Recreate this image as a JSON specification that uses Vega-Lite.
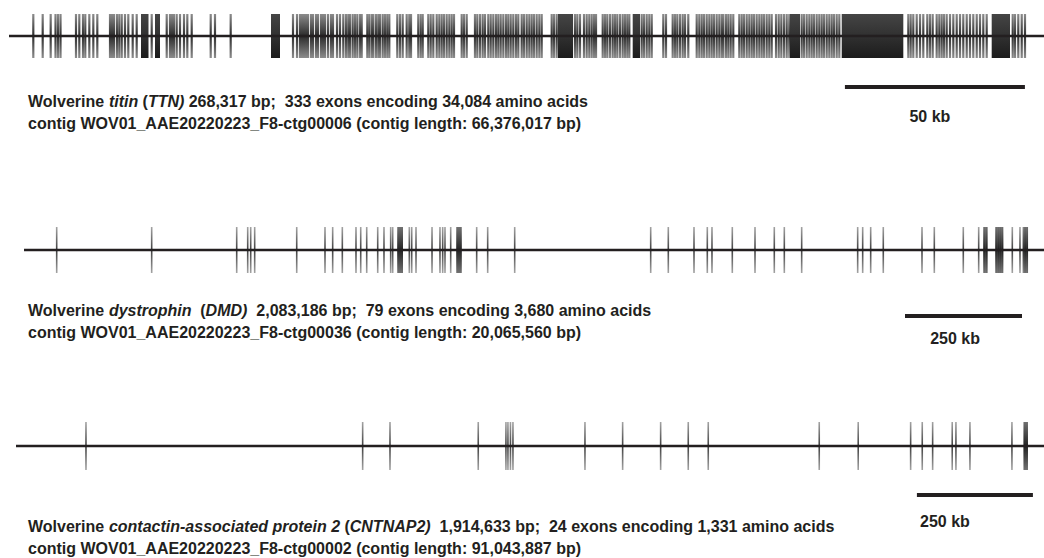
{
  "$schema": "https://vega.github.io/schema/vega-lite/v6.json",
  "padding": 0,
  "spacing": 0,
  "config": {"view": {"stroke": null}, "concat": {"spacing": 0}},
  "datasets": {
    "ttn": [{"s":9.25},{"s":11.86},{"s":14.08},{"s":15.42},{"s":16.11},{"s":16.81},{"s":21.11},{"s":22.03},{"s":23.06},{"s":23.69},{"s":24.81},{"s":25.92},{"s":27.03},{"s":30.56},{"s":31.11},{"s":31.67},{"s":32.5},{"s":33.14},{"s":33.81},{"s":34.72},{"s":35.64},{"s":36.86},{"s":37.97},{"s":42.14},{"s":46.31},{"s":47.22},{"s":47.78},{"s":48.33},{"s":49.08},{"s":50.0},{"s":51.11},{"s":52.03},{"s":53.25},{"s":58.53},{"s":59.72},{"s":64.08},{"s":81.39},{"s":82.5},{"s":83.33},{"s":83.89},{"s":84.44},{"s":85.0},{"s":85.56},{"s":86.39},{"s":86.94},{"s":87.78},{"s":88.33},{"s":89.17},{"s":89.72},{"s":90.28},{"s":91.11},{"s":91.94},{"s":92.5},{"s":93.61},{"s":94.44},{"s":95.36},{"s":96.11},{"s":96.75},{"s":97.22},{"s":97.97},{"s":98.61},{"s":99.25},{"s":100.0},{"s":100.47},{"s":102.03},{"s":102.58},{"s":103.25},{"s":103.69},{"s":104.44},{"s":105.08},{"s":105.56},{"s":106.31},{"s":106.94},{"s":107.58},{"s":108.14},{"s":110.36},{"s":111.11},{"s":111.86},{"s":112.97},{"s":113.69},{"s":114.17},{"s":116.19},{"s":116.86},{"s":117.42},{"s":118.97},{"s":119.64},{"s":120.36},{"s":121.31},{"s":122.03},{"s":122.69},{"s":123.33},{"s":124.08},{"s":124.81},{"s":125.47},{"s":126.11},{"s":128.25},{"s":128.89},{"s":129.64},{"s":131.94},{"s":132.58},{"s":133.33},{"s":134.08},{"s":134.72},{"s":135.64},{"s":136.31},{"s":137.03},{"s":137.78},{"s":138.42},{"s":139.08},{"s":139.81},{"s":140.56},{"s":141.19},{"s":141.86},{"s":142.58},{"s":143.33},{"s":143.97},{"s":144.92},{"s":145.56},{"s":146.31},{"s":147.03},{"s":147.69},{"s":148.33},{"s":149.08},{"s":149.81},{"s":150.47},{"s":153.25},{"s":153.89},{"s":154.64},{"s":159.72},{"s":160.36},{"s":161.11},{"s":162.22},{"s":162.97},{"s":163.69},{"s":164.36},{"s":165.0},{"s":165.56},{"s":167.42},{"s":168.06},{"s":168.69},{"s":169.44},{"s":170.19},{"s":170.83},{"s":171.47},{"s":172.22},{"s":172.97},{"s":173.61},{"s":174.25},{"s":174.81},{"s":178.25},{"s":178.89},{"s":179.64},{"s":180.36},{"s":181.03},{"s":184.25},{"s":185.0},{"s":186.86},{"s":187.5},{"s":188.14},{"s":188.89},{"s":189.64},{"s":190.28},{"s":191.19},{"s":193.53},{"s":194.25},{"s":194.92},{"s":195.56},{"s":196.31},{"s":197.03},{"s":197.69},{"s":198.33},{"s":199.08},{"s":199.81},{"s":200.47},{"s":200.92},{"s":201.67},{"s":202.31},{"s":202.97},{"s":203.69},{"s":205.36},{"s":206.03},{"s":206.67},{"s":207.42},{"s":208.14},{"s":208.81},{"s":209.44},{"s":210.19},{"s":210.92},{"s":211.58},{"s":212.22},{"s":212.97},{"s":213.69},{"s":214.36},{"s":215.56},{"s":216.31},{"s":217.03},{"s":217.78},{"s":218.53},{"s":219.25},{"s":222.69},{"s":223.33},{"s":224.08},{"s":224.81},{"s":225.47},{"s":226.11},{"s":226.86},{"s":227.58},{"s":228.25},{"s":228.89},{"s":229.64},{"s":230.36},{"s":231.03},{"s":231.67},{"s":232.42},{"s":233.14},{"s":252.31},{"s":252.97},{"s":253.69},{"s":254.64},{"s":255.56},{"s":256.47},{"s":257.58},{"s":258.33},{"s":259.08},{"s":260.19},{"s":260.92},{"s":261.58},{"s":262.22},{"s":262.97},{"s":263.89},{"s":264.81},{"s":265.75},{"s":266.67},{"s":267.58},{"s":268.53},{"s":269.44},{"s":270.36},{"s":271.31},{"s":272.22},{"s":273.14},{"s":274.08},{"s":281.31},{"s":281.94},{"s":282.86},{"s":283.81},{"s":284.72}],
    "ttnBlocks": [{"s":39.17,"e":41.25},{"s":43.06,"e":44.44},{"s":75.28,"e":77.78},{"s":155.0,"e":159.17},{"s":175.75,"e":177.78},{"s":219.44,"e":222.22},{"s":233.81,"e":250.92},{"s":275.47,"e":280.56}],
    "dmd": [{"s":121.1},{"s":324.0},{"s":505.6},{"s":529.1},{"s":535.5},{"s":544.0},{"s":633.8},{"s":694.2},{"s":710.6},{"s":731.2},{"s":760.4},{"s":770.5},{"s":783.3},{"s":806.8},{"s":820.2},{"s":834.5},{"s":838.8},{"s":850.1},{"s":854.4},{"s":858.7},{"s":874.3},{"s":879.4},{"s":888.6},{"s":922.8},{"s":939.8},{"s":945.6},{"s":950.5},{"s":962.7},{"s":976.2},{"s":980.4},{"s":984.7},{"s":1018.2},{"s":1041.7},{"s":1099.4},{"s":1389.9},{"s":1427.5},{"s":1482.4},{"s":1510.8},{"s":1520.8},{"s":1564.2},{"s":1612.7},{"s":1653.9},{"s":1675.3},{"s":1712.4},{"s":1832.0},{"s":1842.7},{"s":1859.8},{"s":1886.7},{"s":1969.4},{"s":1995.7},{"s":2057.6},{"s":2090.5},{"s":2101.8},{"s":2107.6},{"s":2127.5},{"s":2132.8},{"s":2137.1},{"s":2141.8},{"s":2162.3},{"s":2178.7},{"s":2185.8},{"s":2190.0},{"s":2194.3}],
    "dmdBlocks": [{"s":849.1,"e":860.8},{"s":975.1,"e":985.8},{"s":2100.8,"e":2109.3},{"s":2126.4,"e":2142.4},{"s":2186.0,"e":2195.8}],
    "cnt": [{"s":185.3},{"s":781.6},{"s":840.5},{"s":1030.7},{"s":1090.4},{"s":1094.7},{"s":1100.1},{"s":1105.5},{"s":1260.7},{"s":1341.9},{"s":1423.8},{"s":1483.3},{"s":1526.4},{"s":1765.6},{"s":1849.6},{"s":1962.6},{"s":1987.6},{"s":2010.0},{"s":2052.2},{"s":2060.2},{"s":2090.4},{"s":2180.9},{"s":2207.4},{"s":2211.0},{"s":2213.8}],
    "cntBlocks": [{"s":2206.3,"e":2215.3}],
    "lines": [{"g":"TTN","s":2.5,"e":290},{"g":"DMD","s":51.3,"e":2230},{"g":"CNT","s":34.5,"e":2250}],
    "bars": [{"g":"TTN","s":234.7,"e":284.7,"c":258.3,"t":"50 kb"},{"g":"DMD","s":1933.1,"e":2183.0,"c":2040,"t":"250 kb"},{"g":"CNT","s":1976.1,"e":2226.1,"c":2036.5,"t":"250 kb"}],
    "labels": [
      {"g":"TTN","x":7.78,"r":66,"it":false,"t":"Wolverine"},
      {"g":"TTN","x":30.25,"r":66,"it":true,"t":"titin"},
      {"g":"TTN","x":39.61,"r":66,"it":false,"t":"("},
      {"g":"TTN","x":41.08,"r":66,"it":true,"t":"TTN)"},
      {"g":"TTN","x":52.42,"r":66,"it":false,"t":"268,317 bp;\u00a0 333 exons encoding 34,084 amino acids"},
      {"g":"TTN","x":7.78,"r":88,"it":false,"t":"contig WOV01_AAE20220223_F8-ctg00006 (contig length: 66,376,017 bp)"},
      {"g":"DMD","x":59.8,"r":61,"it":false,"t":"Wolverine"},
      {"g":"DMD","x":232.6,"r":61,"it":true,"t":"dystrophin"},
      {"g":"DMD","x":427.8,"r":61,"it":false,"t":"("},
      {"g":"DMD","x":439.2,"r":61,"it":true,"t":"DMD)"},
      {"g":"DMD","x":547.5,"r":61,"it":false,"t":"2,083,186 bp;\u00a0 79 exons encoding 3,680 amino acids"},
      {"g":"DMD","x":59.8,"r":83,"it":false,"t":"contig WOV01_AAE20220223_F8-ctg00036 (contig length: 20,065,560 bp)"},
      {"g":"CNT","x":60.3,"r":81,"it":false,"t":"Wolverine"},
      {"g":"CNT","x":234.7,"r":81,"it":true,"t":"contactin-associated protein 2"},
      {"g":"CNT","x":742.4,"r":81,"it":false,"t":"("},
      {"g":"CNT","x":753.8,"r":81,"it":true,"t":"CNTNAP2)"},
      {"g":"CNT","x":947.3,"r":81,"it":false,"t":"1,914,633 bp;\u00a0 24 exons encoding 1,331 amino acids"},
      {"g":"CNT","x":60.3,"r":103,"it":false,"t":"contig WOV01_AAE20220223_F8-ctg00002 (contig length: 91,043,887 bp)"}
    ]
  },
  "vconcat": [
    {
      "width": 1044, "height": 190,
      "layer": [
        {"data": {"name": "ttn"},
         "mark": {"type": "tick", "orient": "vertical", "size": 44, "thickness": 2.2, "opacity": 0.9,
                  "color": {"gradient": "linear", "x1": 0, "y1": 0, "x2": 0, "y2": 1, "stops": [{"offset": 0, "color": "#808080"}, {"offset": 0.5, "color": "#151515"}, {"offset": 1, "color": "#808080"}]}},
         "encoding": {"x": {"field": "s", "type": "quantitative", "scale": {"domain": [0, 290], "nice": false, "zero": false}, "axis": null},
                      "y": {"datum": 0, "type": "quantitative", "scale": {"domain": [-36, 154], "reverse": true, "nice": false, "zero": false}, "axis": null}}},
        {"data": {"name": "ttnBlocks"},
         "mark": {"type": "rect", "color": {"gradient": "linear", "x1": 0, "y1": 0, "x2": 0, "y2": 1, "stops": [{"offset": 0, "color": "#454545"}, {"offset": 1, "color": "#1c1c1c"}]}},
         "encoding": {"x": {"field": "s", "type": "quantitative"}, "x2": {"field": "e"},
                      "y": {"datum": -22, "type": "quantitative"}, "y2": {"datum": 22}}},
        {"data": {"name": "lines"}, "transform": [{"filter": "datum.g === 'TTN'"}],
         "mark": {"type": "rule", "strokeWidth": 2.5, "color": "#231f20"},
         "encoding": {"x": {"field": "s", "type": "quantitative"}, "x2": {"field": "e"}, "y": {"datum": 0, "type": "quantitative"}}},
        {"data": {"name": "bars"}, "transform": [{"filter": "datum.g === 'TTN'"}],
         "mark": {"type": "rule", "strokeWidth": 4, "color": "#231f20"},
         "encoding": {"x": {"field": "s", "type": "quantitative"}, "x2": {"field": "e"}, "y": {"datum": 51, "type": "quantitative"}}},
        {"data": {"name": "bars"}, "transform": [{"filter": "datum.g === 'TTN'"}],
         "mark": {"type": "text", "font": "Liberation Sans", "fontWeight": "bold", "fontSize": 16, "align": "center", "baseline": "middle", "color": "#231f20"},
         "encoding": {"x": {"field": "c", "type": "quantitative"}, "y": {"datum": 81, "type": "quantitative"}, "text": {"field": "t"}}},
        {"data": {"name": "labels"}, "transform": [{"filter": "datum.g === 'TTN' && !datum.it"}],
         "mark": {"type": "text", "font": "Liberation Sans", "fontWeight": "bold", "fontSize": 16, "align": "left", "baseline": "middle", "color": "#231f20"},
         "encoding": {"x": {"field": "x", "type": "quantitative"}, "y": {"field": "r", "type": "quantitative"}, "text": {"field": "t"}}},
        {"data": {"name": "labels"}, "transform": [{"filter": "datum.g === 'TTN' && datum.it"}],
         "mark": {"type": "text", "font": "Liberation Sans", "fontWeight": "bold", "fontStyle": "italic", "fontSize": 16, "align": "left", "baseline": "middle", "color": "#231f20"},
         "encoding": {"x": {"field": "x", "type": "quantitative"}, "y": {"field": "r", "type": "quantitative"}, "text": {"field": "t"}}}
      ]
    },
    {
      "width": 1044, "height": 190,
      "layer": [
        {"data": {"name": "dmd"},
         "mark": {"type": "tick", "orient": "vertical", "size": 46, "thickness": 1.6, "opacity": 0.9,
                  "color": {"gradient": "linear", "x1": 0, "y1": 0, "x2": 0, "y2": 1, "stops": [{"offset": 0, "color": "#9a9a9a"}, {"offset": 0.5, "color": "#2a2a2a"}, {"offset": 1, "color": "#9a9a9a"}]}},
         "encoding": {"x": {"field": "s", "type": "quantitative", "scale": {"domain": [0, 2230], "nice": false, "zero": false}, "axis": null},
                      "y": {"datum": 0, "type": "quantitative", "scale": {"domain": [-60, 130], "reverse": true, "nice": false, "zero": false}, "axis": null}}},
        {"data": {"name": "dmdBlocks"},
         "mark": {"type": "rect", "opacity": 0.9, "color": {"gradient": "linear", "x1": 0, "y1": 0, "x2": 0, "y2": 1, "stops": [{"offset": 0, "color": "#6a6a6a"}, {"offset": 0.5, "color": "#1c1c1c"}, {"offset": 1, "color": "#6a6a6a"}]}},
         "encoding": {"x": {"field": "s", "type": "quantitative"}, "x2": {"field": "e"},
                      "y": {"datum": -23, "type": "quantitative"}, "y2": {"datum": 23}}},
        {"data": {"name": "lines"}, "transform": [{"filter": "datum.g === 'DMD'"}],
         "mark": {"type": "rule", "strokeWidth": 2.5, "color": "#231f20"},
         "encoding": {"x": {"field": "s", "type": "quantitative"}, "x2": {"field": "e"}, "y": {"datum": 0, "type": "quantitative"}}},
        {"data": {"name": "bars"}, "transform": [{"filter": "datum.g === 'DMD'"}],
         "mark": {"type": "rule", "strokeWidth": 4, "color": "#231f20"},
         "encoding": {"x": {"field": "s", "type": "quantitative"}, "x2": {"field": "e"}, "y": {"datum": 66, "type": "quantitative"}}},
        {"data": {"name": "bars"}, "transform": [{"filter": "datum.g === 'DMD'"}],
         "mark": {"type": "text", "font": "Liberation Sans", "fontWeight": "bold", "fontSize": 16, "align": "center", "baseline": "middle", "color": "#231f20"},
         "encoding": {"x": {"field": "c", "type": "quantitative"}, "y": {"datum": 89, "type": "quantitative"}, "text": {"field": "t"}}},
        {"data": {"name": "labels"}, "transform": [{"filter": "datum.g === 'DMD' && !datum.it"}],
         "mark": {"type": "text", "font": "Liberation Sans", "fontWeight": "bold", "fontSize": 16, "align": "left", "baseline": "middle", "color": "#231f20"},
         "encoding": {"x": {"field": "x", "type": "quantitative"}, "y": {"field": "r", "type": "quantitative"}, "text": {"field": "t"}}},
        {"data": {"name": "labels"}, "transform": [{"filter": "datum.g === 'DMD' && datum.it"}],
         "mark": {"type": "text", "font": "Liberation Sans", "fontWeight": "bold", "fontStyle": "italic", "fontSize": 16, "align": "left", "baseline": "middle", "color": "#231f20"},
         "encoding": {"x": {"field": "x", "type": "quantitative"}, "y": {"field": "r", "type": "quantitative"}, "text": {"field": "t"}}}
      ]
    },
    {
      "width": 1044, "height": 178,
      "layer": [
        {"data": {"name": "cnt"},
         "mark": {"type": "tick", "orient": "vertical", "size": 48, "thickness": 1.6, "opacity": 0.9,
                  "color": {"gradient": "linear", "x1": 0, "y1": 0, "x2": 0, "y2": 1, "stops": [{"offset": 0, "color": "#9a9a9a"}, {"offset": 0.5, "color": "#2a2a2a"}, {"offset": 1, "color": "#9a9a9a"}]}},
         "encoding": {"x": {"field": "s", "type": "quantitative", "scale": {"domain": [0, 2250], "nice": false, "zero": false}, "axis": null},
                      "y": {"datum": 0, "type": "quantitative", "scale": {"domain": [-66, 112], "reverse": true, "nice": false, "zero": false}, "axis": null}}},
        {"data": {"name": "cntBlocks"},
         "mark": {"type": "rect", "opacity": 0.9, "color": {"gradient": "linear", "x1": 0, "y1": 0, "x2": 0, "y2": 1, "stops": [{"offset": 0, "color": "#6a6a6a"}, {"offset": 0.5, "color": "#1c1c1c"}, {"offset": 1, "color": "#6a6a6a"}]}},
         "encoding": {"x": {"field": "s", "type": "quantitative"}, "x2": {"field": "e"},
                      "y": {"datum": -24, "type": "quantitative"}, "y2": {"datum": 24}}},
        {"data": {"name": "lines"}, "transform": [{"filter": "datum.g === 'CNT'"}],
         "mark": {"type": "rule", "strokeWidth": 2.5, "color": "#231f20"},
         "encoding": {"x": {"field": "s", "type": "quantitative"}, "x2": {"field": "e"}, "y": {"datum": 0, "type": "quantitative"}}},
        {"data": {"name": "bars"}, "transform": [{"filter": "datum.g === 'CNT'"}],
         "mark": {"type": "rule", "strokeWidth": 4, "color": "#231f20"},
         "encoding": {"x": {"field": "s", "type": "quantitative"}, "x2": {"field": "e"}, "y": {"datum": 49, "type": "quantitative"}}},
        {"data": {"name": "bars"}, "transform": [{"filter": "datum.g === 'CNT'"}],
         "mark": {"type": "text", "font": "Liberation Sans", "fontWeight": "bold", "fontSize": 16, "align": "center", "baseline": "middle", "color": "#231f20"},
         "encoding": {"x": {"field": "c", "type": "quantitative"}, "y": {"datum": 76, "type": "quantitative"}, "text": {"field": "t"}}},
        {"data": {"name": "labels"}, "transform": [{"filter": "datum.g === 'CNT' && !datum.it"}],
         "mark": {"type": "text", "font": "Liberation Sans", "fontWeight": "bold", "fontSize": 16, "align": "left", "baseline": "middle", "color": "#231f20"},
         "encoding": {"x": {"field": "x", "type": "quantitative"}, "y": {"field": "r", "type": "quantitative"}, "text": {"field": "t"}}},
        {"data": {"name": "labels"}, "transform": [{"filter": "datum.g === 'CNT' && datum.it"}],
         "mark": {"type": "text", "font": "Liberation Sans", "fontWeight": "bold", "fontStyle": "italic", "fontSize": 16, "align": "left", "baseline": "middle", "color": "#231f20"},
         "encoding": {"x": {"field": "x", "type": "quantitative"}, "y": {"field": "r", "type": "quantitative"}, "text": {"field": "t"}}}
      ]
    }
  ]
}
